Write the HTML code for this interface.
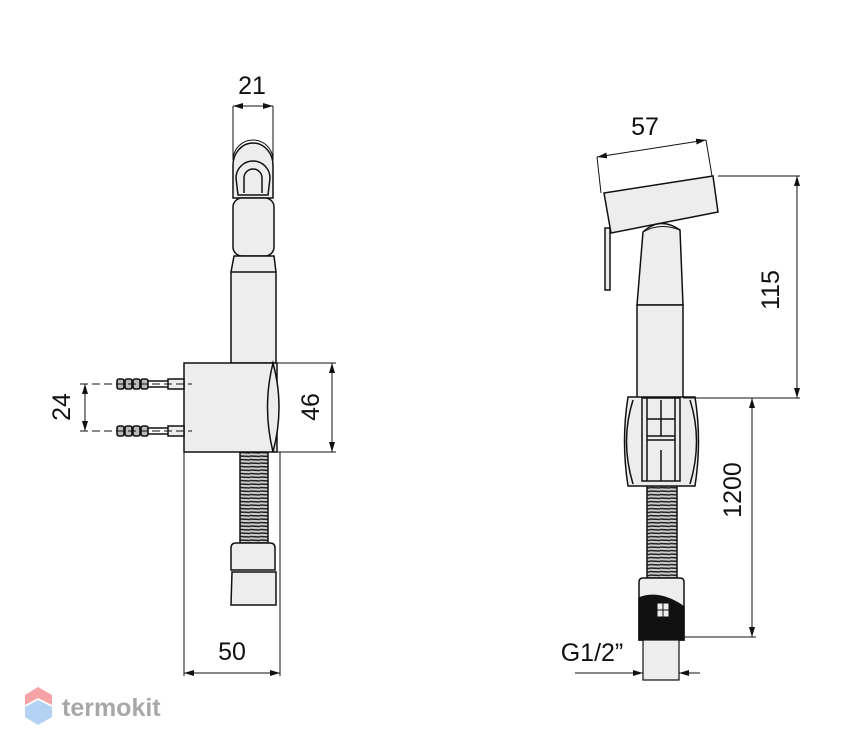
<!DOCTYPE html>
<html><head><meta charset="utf-8"><style>
html,body{margin:0;padding:0;background:#fff;}
svg{display:block}
text{font-family:"Liberation Sans",sans-serif;fill:#111}
</style></head><body>
<svg width="850" height="750" viewBox="0 0 850 750" xmlns="http://www.w3.org/2000/svg">
<defs>
<marker id="a" viewBox="0 0 10 6" refX="10" refY="3" markerWidth="10" markerHeight="6" orient="auto-start-reverse" markerUnits="userSpaceOnUse"><path d="M0,0 L10,3 L0,6z" fill="#111"/></marker>
<pattern id="hose" width="10" height="3.5" patternUnits="userSpaceOnUse"><rect width="10" height="3.5" fill="#ccc"/><line x1="0" y1="1" x2="10" y2="1.5" stroke="#222" stroke-width="1.5"/></pattern>
</defs>
<g stroke="#111" stroke-width="1.5" fill="#ededed">
<!-- LEFT VIEW -->
<path d="M233,106 L233,160 A20,20 0 0 1 273,160 L273,106" fill="none" stroke-width="1"/>
<path d="M233,198 L233,165 A20,22 0 0 1 273,165 L273,198z"/>
<path d="M236,178 A17,17 0 0 1 270,178 L268,195 L238,195z"/>
<path d="M244,193 L244,178 A9,9 0 0 1 262,178 L262,193"/>
<rect x="233" y="198" width="41" height="58" rx="9"/>
<path d="M234,256 L231,272 L231,363 L276,363 L276,272 L274,256z"/>
<line x1="231" y1="272" x2="276" y2="272"/>
<rect x="240" y="452" width="28" height="91" fill="url(#hose)"/>
<path d="M231,570 L231,548 Q231,543 236,543 L270,543 Q275,543 275,548 L275,570z"/>
<path d="M232,572 L276,572 L276,605 L231,605z"/>
<rect x="184" y="363" width="93" height="89"/>
<path d="M273,363 Q262,407 273,452 Q285,407 273,363z"/>
<rect x="168" y="379" width="16" height="10"/>
<rect x="168" y="426" width="16" height="10"/>
<g fill="#bbb" stroke-width="1.6">
<rect x="117" y="379" width="7" height="10" rx="2"/><rect x="125" y="379" width="7" height="10" rx="2"/><rect x="133" y="379" width="7" height="10" rx="2"/><rect x="141" y="379" width="7" height="10" rx="2"/>
<rect x="117" y="426" width="7" height="10" rx="2"/><rect x="125" y="426" width="7" height="10" rx="2"/><rect x="133" y="426" width="7" height="10" rx="2"/><rect x="141" y="426" width="7" height="10" rx="2"/>
<line x1="148" y1="381" x2="168" y2="381"/><line x1="148" y1="387" x2="168" y2="387"/>
<line x1="148" y1="428" x2="168" y2="428"/><line x1="148" y1="434" x2="168" y2="434"/>
</g>
<g stroke-width="1" fill="none" stroke-dasharray="8,4">
<line x1="80" y1="384" x2="192" y2="384"/><line x1="80" y1="431" x2="192" y2="431"/>
</g>
<g stroke-width="1" fill="none">
<line x1="233" y1="106" x2="273" y2="106" marker-start="url(#a)" marker-end="url(#a)"/>
<line x1="85" y1="384" x2="85" y2="431" marker-start="url(#a)" marker-end="url(#a)"/>
<line x1="277" y1="363" x2="336" y2="363"/><line x1="277" y1="452" x2="336" y2="452"/>
<line x1="332" y1="363" x2="332" y2="452" marker-start="url(#a)" marker-end="url(#a)"/>
<line x1="184" y1="452" x2="184" y2="676"/><line x1="280" y1="452" x2="280" y2="676"/>
<line x1="184" y1="673" x2="280" y2="673" marker-start="url(#a)" marker-end="url(#a)"/>
</g>

<!-- RIGHT VIEW -->
<path d="M605,228 L610,228 L610,290 L605,290z" stroke-width="1.5"/>
<path d="M604,193 L713,176 L718,212 L611,233z"/>
<path d="M637,305 L643,232 Q660,216 680,230 L683,305z"/>
<path d="M643,232 Q660,222 680,230" fill="none" stroke-width="1"/>
<rect x="637" y="305" width="46" height="93"/>
<rect x="647" y="480" width="30" height="98" fill="url(#hose)"/>
<path d="M628,397 L695,397 Q702,441 695,486 L628,486 Q621,441 628,397z"/>
<path d="M633,400 Q620,441 633,484" fill="none"/>
<path d="M690,400 Q703,441 690,484" fill="none"/>
<rect x="642" y="398" width="38" height="83"/>
<line x1="647" y1="398" x2="647" y2="481"/><line x1="675" y1="398" x2="675" y2="481"/>
<line x1="661" y1="400" x2="661" y2="436"/><line x1="647" y1="419" x2="675" y2="419"/>
<line x1="647" y1="436" x2="675" y2="436"/><line x1="647" y1="440" x2="675" y2="440"/>
<line x1="661" y1="450" x2="661" y2="481"/>
<path d="M639,640 L639,582 Q639,578 643,578 L680,578 Q684,578 684,582 L684,640z"/>
<path d="M639,598 Q660,590 684,607 L684,640 L639,640z" fill="#111"/>
<rect x="657" y="603" width="12" height="14" fill="#eee" stroke-width="1"/>
<line x1="663" y1="603" x2="663" y2="617" stroke-width="1"/><line x1="657" y1="610" x2="669" y2="610" stroke-width="1"/>
<rect x="643" y="640" width="36" height="40" stroke-width="1.2"/>
<g stroke-width="1" fill="none">
<line x1="597" y1="157" x2="706" y2="140" marker-start="url(#a)" marker-end="url(#a)"/>
<line x1="597" y1="157" x2="601" y2="193"/><line x1="706" y1="140" x2="712" y2="176"/>
<line x1="718" y1="176" x2="800" y2="176"/><line x1="683" y1="398" x2="800" y2="398"/>
<line x1="797" y1="176" x2="797" y2="398" marker-start="url(#a)" marker-end="url(#a)"/>
<line x1="752" y1="398" x2="752" y2="637" marker-start="url(#a)" marker-end="url(#a)"/>
<line x1="685" y1="637" x2="756" y2="637"/>
<line x1="575" y1="673" x2="643" y2="673" marker-end="url(#a)"/>
<line x1="700" y1="673" x2="679" y2="673" marker-end="url(#a)"/>
</g>
</g>
<g font-size="25">
<text x="252" y="94" text-anchor="middle">21</text>
<text x="232" y="660" text-anchor="middle">50</text>
<text x="645" y="135" text-anchor="middle">57</text>
<text x="592" y="661" text-anchor="middle">G1/2”</text>
<text transform="translate(70,407) rotate(-90)" text-anchor="middle">24</text>
<text transform="translate(319,407) rotate(-90)" text-anchor="middle">46</text>
<text transform="translate(779,290) rotate(-90)" text-anchor="middle">115</text>
<text transform="translate(741,490) rotate(-90)" text-anchor="middle">1200</text>
</g>
<path d="M38,687 L52,695 L52,705 L38,698 L25,705 L25,695z" fill="#f5a3a6"/>
<path d="M25,707 L38,700 L52,707 L52,717 L38,725 L25,717z" fill="#b3d1f2"/>
<text x="62" y="716" font-size="25" font-weight="bold" style="fill:#a8a8a8">termokit</text>
</svg>
</body></html>
